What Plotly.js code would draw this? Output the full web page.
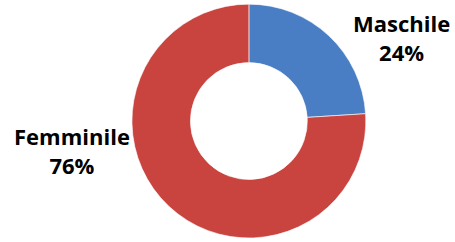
<!DOCTYPE html>
<html>
<head>
<meta charset="utf-8">
<script src="https://cdn.plot.ly/plotly-3.0.1.min.js"></script>
<style>html,body{margin:0;padding:0;background:#fff;}#chart{width:455px;height:242px;}</style>
</head>
<body>
<div id="chart"></div>
<script>
const categories = ["Maschile", "Femminile"];
const values = [24, 76];
const colors = ["#4a7ec4", "#c9433f"];

const total = values.reduce((a, b) => a + b, 0);
const pct = values.map(v => Math.round(v / total * 100) + "%");

const trace = {
  type: "pie",
  labels: categories,
  values: values,
  hole: 0.5,
  sort: false,
  direction: "clockwise",
  rotation: 0,
  textinfo: "none",
  hoverinfo: "none",
  marker: { colors: colors, line: { color: "rgba(255,255,255,0.6)", width: 1 } },
  domain: { x: [0.29, 0.804], y: [0.0165, 0.983] },
  showlegend: false
};

const labelPos = [
  { x: 401, y: 37 },
  { x: 72, y: 150 }
];

const annotations = categories.map((c, i) => ({
  text: "<b>" + c + "</b><br><b>" + pct[i] + "</b>",
  xref: "paper", yref: "paper",
  x: labelPos[i].x / 455, y: 1 - labelPos[i].y / 242,
  xanchor: "center", yanchor: "middle",
  showarrow: false,
  align: "center",
  font: { family: "Open Sans", size: 22, color: "#000" }
}));

Plotly.newPlot("chart", [trace], {
  width: 455, height: 242,
  margin: { l: 0, r: 0, t: 0, b: 0 },
  paper_bgcolor: "#fff",
  annotations: annotations
}, { staticPlot: true, displayModeBar: false });
</script>
</body>
</html>
